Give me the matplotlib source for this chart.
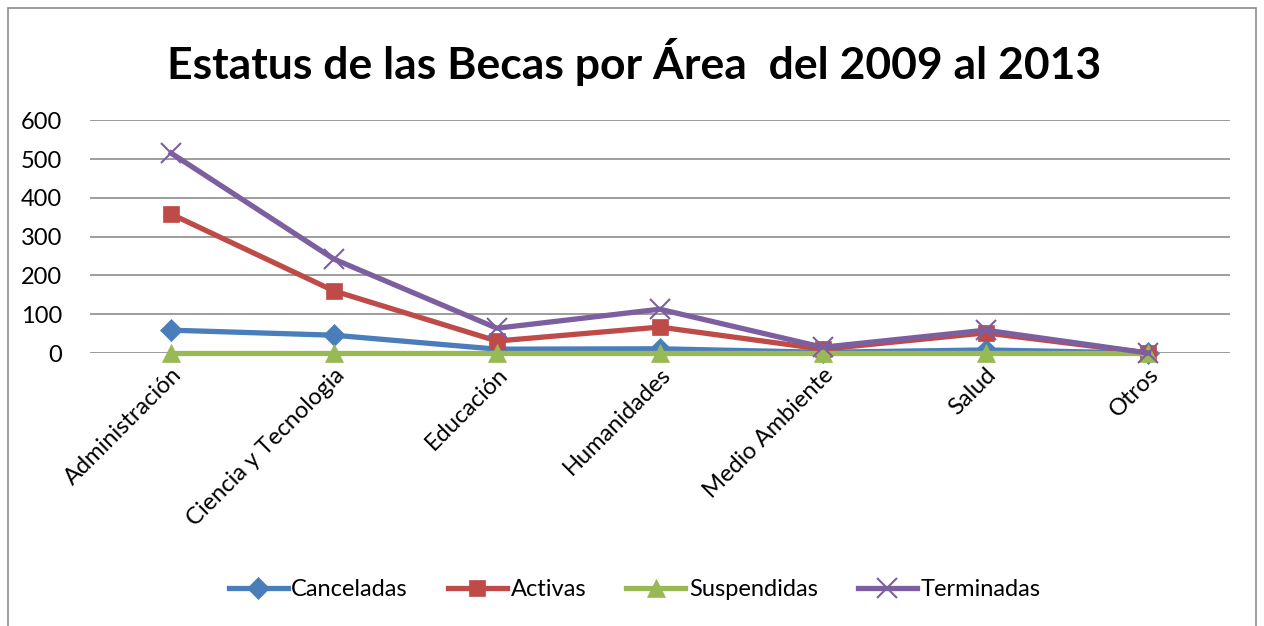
import matplotlib
matplotlib.use("Agg")
import matplotlib.pyplot as plt
from matplotlib.patches import Rectangle
import numpy as np

categorias = ["Administración", "Ciencia y Tecnologia", "Educación", "Humanidades",
              "Medio Ambiente", "Salud", "Otros"]
canceladas = [59, 46, 10, 11, 2, 8, 0]
activas = [358, 160, 31, 67, 10, 52, 0]
suspendidas = [0, 0, 0, 0, 0, 0, 0]
terminadas = [515, 242, 64, 113, 15, 59, 0]
yticks = [0, 100, 200, 300, 400, 500, 600]

plt.rcParams['font.family'] = ['Lato', 'DejaVu Sans']

fig = plt.figure(figsize=(12.64, 6.26), dpi=100)
ax = fig.add_axes([0.071, 0.436, 0.902, 0.372])

x = np.arange(len(categorias))
series = [
    ("Canceladas", canceladas, "#4a7ebb", "D", 11),
    ("Activas", activas, "#be4b48", "s", 12),
    ("Suspendidas", suspendidas, "#98b954", "^", 13),
    ("Terminadas", terminadas, "#7d5fa0", "x", 14),
]
for name, vals, col, mk, ms in series:
    ax.plot(x, vals, color=col, lw=3.8, marker=mk, markersize=ms,
            markeredgewidth=1.5 if mk == "x" else 0.5, markeredgecolor=col,
            label=name, clip_on=False, zorder=3)

ax.set_xlim(-0.5, len(categorias) - 0.5)
ax.set_ylim(0, 600)
ax.set_yticks(yticks)
ax.tick_params(axis='y', length=0, labelsize=17, pad=20)
ax.tick_params(axis='x', length=0, labelsize=17, pad=8)
ax.set_xticks(x)
ax.set_xticklabels(categorias, rotation=45, ha='right', rotation_mode='anchor')
ax.grid(axis='y', color='#8c8c8c', lw=1.2)
ax.set_axisbelow(True)
for s in ax.spines.values():
    s.set_visible(False)

fig.suptitle("Estatus de las Becas por Área  del 2009 al 2013", x=0.502, y=0.94,
             fontsize=32, fontweight='bold')

fig.legend(loc='center', bbox_to_anchor=(0.502, 0.058), ncol=4, frameon=False,
           fontsize=17, handlelength=2.5, columnspacing=1.7, handletextpad=0.15)

fig.patches.append(Rectangle((0.006, -0.01), 0.988, 0.998, transform=fig.transFigure,
                             fill=False, edgecolor='#8c8c8c', lw=1.2))

fig.savefig("out.png", dpi=100)
